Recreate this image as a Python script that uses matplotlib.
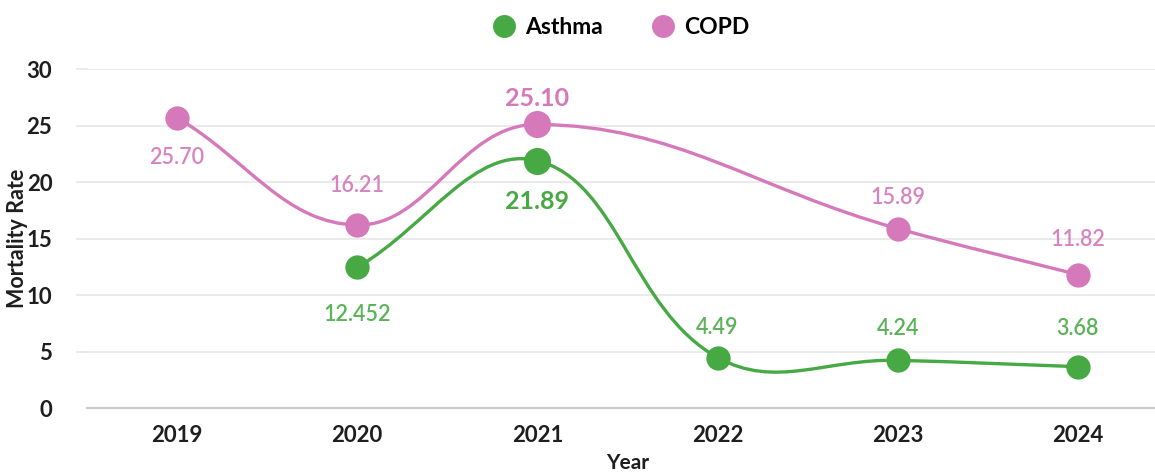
import numpy as np
import matplotlib
matplotlib.use("Agg")
import matplotlib.pyplot as plt
from matplotlib.path import Path
from matplotlib.patches import PathPatch
from matplotlib.lines import Line2D

# ---------------- data ----------------
years = ["2019", "2020", "2021", "2022", "2023", "2024"]
asthma = [None, 12.452, 21.89, 4.49, 4.24, 3.68]
copd = [25.70, 16.21, 25.10, None, 15.89, 11.82]
asthma_labels = [None, "12.452", "21.89", "4.49", "4.24", "3.68"]
copd_labels = ["25.70", "16.21", "25.10", None, "15.89", "11.82"]
y_ticks = [0, 5, 10, 15, 20, 25, 30]
highlight_year = "2021"

# ---------------- style ----------------
GREEN = "#47a944"
PINK = "#d679bb"
GREEN_TXT = "#5cb259"
PINK_TXT = "#d883c0"
FONT = ["Lato", "DejaVu Sans"]
plt.rcParams["font.family"] = FONT

W, H = 1155, 473
fig = plt.figure(figsize=(W / 100, H / 100), dpi=100)
left_px, right_px = 87, 1168
top_px, bot_px = 69, 408.3
ax = fig.add_axes([left_px / W, (H - bot_px) / H, (right_px - left_px) / W, (bot_px - top_px) / H])
ax.set_xlim(-0.5, len(years) - 0.5)
ax.set_ylim(0, 30)

for s in ["top", "right", "left"]:
    ax.spines[s].set_visible(False)
ax.spines["bottom"].set_color("#cccccc")
ax.spines["bottom"].set_linewidth(1.6)
ax.set_yticks(y_ticks)
ax.set_xticks(range(len(years)))
ax.set_xticklabels(years)
ax.grid(axis="y", color="#e6e6e6", linewidth=1.2)
ax.set_axisbelow(True)
ax.tick_params(axis="both", length=0, labelsize=16, labelcolor="#1e1e1e")
ax.tick_params(axis="y", pad=25)
ax.tick_params(axis="x", pad=12)
for lbl in ax.get_xticklabels() + ax.get_yticklabels():
    lbl.set_fontweight("bold")

# gridlines extend a bit left of the chart area (Chart.js style)
for yv in y_ticks[1:]:
    ax.plot([-0.5 - 10 / 180.2, -0.5], [yv, yv], color="#e6e6e6", lw=1.2, clip_on=False, zorder=0)

fig.text((left_px + right_px) / 2 / W, 1 - 463 / H, "Year", ha="center", va="center",
         fontsize=15, fontweight="bold", color="#1e1e1e")
fig.text(18 / W, 1 - 238.5 / H, "Mortality Rate", ha="center", va="center", rotation=90,
         fontsize=15.5, fontweight="bold", color="#1e1e1e")


def spline_path(xs, ys, tension=0.4):
    pts = ax.transData.transform(np.column_stack([xs, ys]))
    n = len(pts)
    cp_prev, cp_next = [], []
    for i in range(n):
        cur = pts[i]
        prev = pts[i - 1] if i > 0 else cur
        nxt = pts[i + 1] if i < n - 1 else cur
        d01 = np.hypot(*(cur - prev))
        d12 = np.hypot(*(nxt - cur))
        tot = d01 + d12
        s01 = d01 / tot if tot else 0.0
        s12 = d12 / tot if tot else 0.0
        cp_prev.append(cur - tension * s01 * (nxt - prev))
        cp_next.append(cur + tension * s12 * (nxt - prev))
    verts = [pts[0]]
    codes = [Path.MOVETO]
    for i in range(1, n):
        verts += [cp_next[i - 1], cp_prev[i], pts[i]]
        codes += [Path.CURVE4] * 3
    return Path(ax.transData.inverted().transform(np.array(verts)), codes)


def draw_series(values, labels, color, txtcolor, placement):
    idx = [i for i, v in enumerate(values) if v is not None]
    xs = np.array(idx, dtype=float)
    ys = np.array([values[i] for i in idx], dtype=float)
    ax.add_patch(PathPatch(spline_path(xs, ys), fill=False, edgecolor=color, lw=2.4,
                           capstyle="round", joinstyle="round", zorder=3))
    for i in idx:
        big = years[i] == highlight_year
        ax.plot([i], [values[i]], "o", color=color, markersize=19.5 if big else 17.5,
                markeredgewidth=0, zorder=4)
        direction, off = placement[years[i]]
        dy = off if direction == "above" else -off
        ax.annotate(labels[i], (i, values[i]), xytext=(0, dy * 0.72), textcoords="offset points",
                    ha="center", va="center", color=color if big else txtcolor,
                    fontsize=18 if big else 15.5, fontweight="bold" if big else "semibold",
                    zorder=5)


asthma_place = {"2020": ("below", 47), "2021": ("below", 41), "2022": ("above", 30),
                "2023": ("above", 32), "2024": ("above", 38)}
copd_place = {"2019": ("below", 40), "2020": ("above", 39), "2021": ("above", 26),
              "2023": ("above", 31), "2024": ("above", 35)}

draw_series(asthma, asthma_labels, GREEN, GREEN_TXT, asthma_place)
draw_series(copd, copd_labels, PINK, PINK_TXT, copd_place)

handles = [Line2D([], [], marker="o", ls="", color=GREEN, markersize=16.5, markeredgewidth=0),
           Line2D([], [], marker="o", ls="", color=PINK, markersize=16.5, markeredgewidth=0)]
fig.legend(handles, ["Asthma", "COPD"], loc="center", bbox_to_anchor=(621 / W, 1 - 28 / H),
           ncol=2, frameon=False, handlelength=1.0, handletextpad=0.45, columnspacing=2.1,
           prop={"family": FONT, "weight": "bold", "size": 16.5})

fig.savefig("out.png", dpi=100, facecolor="white")
